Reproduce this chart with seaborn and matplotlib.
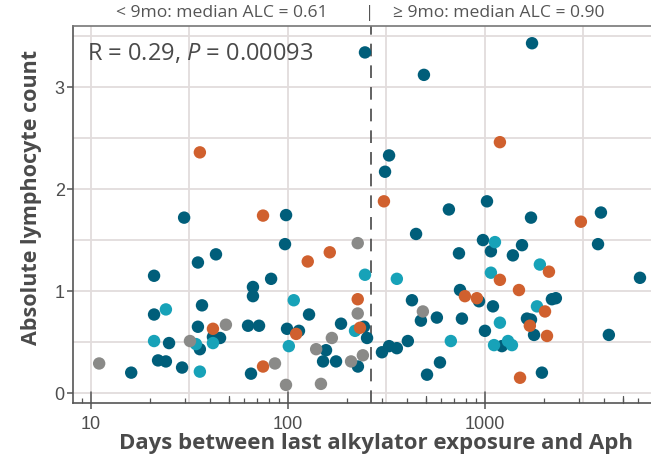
import numpy as np
import pandas as pd
import matplotlib
matplotlib.use("Agg")
import matplotlib.pyplot as plt
import seaborn as sns
from matplotlib.ticker import FixedLocator, NullFormatter

# days between last alkylator exposure and apheresis, ALC at apheresis
dark_days = [16, 20.9, 20.9, 21.9, 24, 24.9, 29, 29.7, 34.9, 34.9, 35.7, 36.6,
             43.1, 41.6, 45.2, 62.7, 71.3, 66.4, 66.4, 64.9, 82.1, 97.8, 96.6,
             98.9, 113.7, 127.9, 156, 150.7, 175.4, 185.9, 226.5, 243, 252, 246,
             300, 326, 357, 406, 426, 473, 570, 591, 508, 447, 326, 311, 490, 656,
             747, 764, 738, 933, 977, 1024, 1000, 1072, 1098, 1219, 1386, 1542,
             1713, 1734, 1634, 1713, 1775, 1946, 2187, 2291, 3750, 3880, 4256, 6124]
dark_alc = [0.20, 1.15, 0.77, 0.32, 0.31, 0.49, 0.25, 1.72, 1.28, 0.65, 0.43, 0.86,
            1.36, 0.55, 0.54, 0.66, 0.66, 1.04, 0.95, 0.19, 1.12, 1.745, 1.46,
            0.63, 0.61, 0.77, 0.42, 0.31, 0.31, 0.68, 0.26, 0.65, 0.54, 3.34,
            0.40, 0.46, 0.44, 0.51, 0.91, 0.71, 0.74, 0.30, 0.18, 1.56, 2.33, 2.17, 3.12, 1.80,
            1.01, 0.73, 1.37, 0.90, 1.50, 1.88, 0.61, 1.39, 0.85, 0.46, 1.35, 1.45,
            1.72, 3.43, 0.73, 0.72, 0.57, 0.20, 0.92, 0.93, 1.46, 1.77, 0.57, 1.13]

light_days = [20.9, 24, 34.1, 35.7, 41.6, 101, 107, 219, 246, 357, 671, 1072,
              1124, 1191, 1112, 1309, 1371, 1837, 1900]
light_alc = [0.51, 0.82, 0.48, 0.21, 0.49, 0.46, 0.91, 0.61, 1.16, 1.12, 0.51, 1.18,
             1.48, 0.69, 0.47, 0.51, 0.47, 0.85, 1.26]

orange_days = [35.7, 41.6, 74.7, 74.7, 110, 126, 163, 226, 232, 307, 1191, 791,
               910, 1191, 1488, 2113, 3069, 2018, 1690, 2065, 1507]
orange_alc = [2.36, 0.63, 1.74, 0.26, 0.58, 1.29, 1.38, 0.92, 0.64, 1.88, 2.46, 0.95,
              0.93, 1.11, 1.01, 1.19, 1.68, 0.80, 0.66, 0.56, 0.15]

gray_days = [11, 31.8, 48.4, 85.9, 97.7, 139, 167, 147, 209, 240, 226, 226, 484]
gray_alc = [0.29, 0.51, 0.67, 0.29, 0.08, 0.43, 0.54, 0.09, 0.31, 0.37, 0.78, 1.47, 0.80]

cutoff_days = 265
x_ticks = [10, 100, 1000]
y_ticks = [0, 1, 2, 3]

df = pd.concat([
    pd.DataFrame({"days": dark_days, "alc": dark_alc, "group": "A"}),
    pd.DataFrame({"days": light_days, "alc": light_alc, "group": "B"}),
    pd.DataFrame({"days": orange_days, "alc": orange_alc, "group": "C"}),
    pd.DataFrame({"days": gray_days, "alc": gray_alc, "group": "D"}),
])
palette = {"A": "#005E7A", "B": "#17A2B8", "C": "#D0602E", "D": "#8A8A88"}

sns.set_style("white")
plt.rcParams["font.family"] = ["Open Sans", "DejaVu Sans"]
plt.rcParams["mathtext.fontset"] = "custom"
plt.rcParams["mathtext.it"] = "Open Sans:italic"
plt.rcParams["mathtext.rm"] = "Open Sans"

fig = plt.figure(figsize=(6.51, 4.58), dpi=100)
ax = fig.add_axes([0.1121, 0.120, 0.8879, 0.823])

ax.set_xscale("log")
ax.set_xlim(8.1, 6966)
ax.set_ylim(-0.098, 3.598)

# grid: decades + half decades, units + half units
grid_c = "#E2DCDC"
for v in [10, 10 ** 1.5, 100, 10 ** 2.5, 1000, 10 ** 3.5]:
    ax.axvline(v, color=grid_c, lw=1.3, zorder=0)
for v in np.arange(0, 4, 0.5):
    ax.axhline(v, color=grid_c, lw=1.3, zorder=0)

sns.scatterplot(data=df, x="days", y="alc", hue="group", palette=palette,
                s=80, linewidth=0, alpha=1, legend=False, ax=ax, zorder=3)

ax.axvline(cutoff_days, color="#555555", lw=1.3, ls=(0, (7, 5)), zorder=2)

# axes styling
for side in ["left", "bottom", "top"]:
    ax.spines[side].set_color("#555555")
    ax.spines[side].set_linewidth(1.2)
ax.spines["top"].set_color("#777777")
ax.spines["right"].set_visible(False)

tick_font = ["Liberation Sans Narrow", "Liberation Sans", "DejaVu Sans"]
ax.xaxis.set_major_locator(FixedLocator(x_ticks))
ax.set_xticklabels([str(t) for t in x_ticks], family=tick_font)
minors = [m * 10 ** k for k in range(0, 4) for m in range(2, 10)]
ax.xaxis.set_minor_locator(FixedLocator(minors))
ax.xaxis.set_minor_formatter(NullFormatter())
ax.tick_params(axis="x", which="major", direction="out", length=4, width=1.1,
               color="#555555", labelsize=13, labelcolor="#4d4d4d", pad=5,
               bottom=True)
ax.tick_params(axis="x", which="minor", direction="in", length=3.5, width=0.9,
               color="#555555", bottom=True)
# log ticks: long at decades, mid at 5x
trans = ax.get_xaxis_transform()
for v in [10, 100, 1000]:
    ax.plot([v, v], [0, 0.028], color="#555555", lw=1.1, transform=trans, clip_on=False)
for v in [50, 500, 5000]:
    ax.plot([v, v], [0, 0.018], color="#555555", lw=0.9, transform=trans, clip_on=False)

ax.yaxis.set_major_locator(FixedLocator(y_ticks))
ax.set_yticklabels([str(t) for t in y_ticks], family=tick_font)
ax.tick_params(axis="y", which="major", direction="out", length=4, width=1.1,
               color="#555555", labelsize=13, labelcolor="#4d4d4d", pad=2, left=True)

ax.set_xlabel("")
ax.set_ylabel("")
fig.text(0.578, 0.032, "Days between last alkylator exposure and Aph", ha="center",
         va="center", fontsize=16, fontweight="bold", color="#4a4a4a")
fig.text(0.048, 0.57, "Absolute lymphocyte count", ha="center", va="center",
         rotation=90, fontsize=15.5, fontweight="bold", color="#4a4a4a")

fig.text(0.504, 0.971, "< 9mo: median ALC = 0.61", ha="right", va="center",
         fontsize=12.6, color="#555555")
fig.text(0.568, 0.971, "|", ha="center", va="center", fontsize=12, color="#555555")
fig.text(0.604, 0.971, "\u2265 9mo: median ALC = 0.90", ha="left", va="center",
         fontsize=12.6, color="#555555")

ax.text(0.024, 0.925, r"R = 0.29, $\mathit{P}$ = 0.00093", transform=ax.transAxes,
        ha="left", va="center", fontsize=17, color="#4a4a4a")

fig.savefig("out.png", dpi=100)
